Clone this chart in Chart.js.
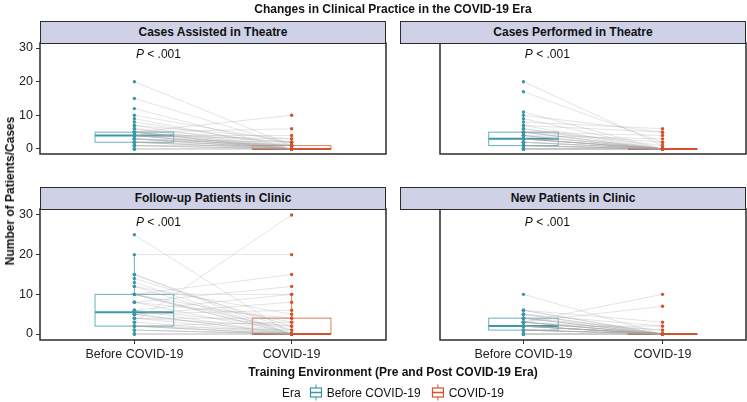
<!DOCTYPE html>
<html>
<head>
<meta charset="utf-8">
<script src="https://cdn.jsdelivr.net/npm/chart.js@4.4.0/dist/chart.umd.min.js"></script>
<style>
  body { margin: 0; background: #fff; }
  #wrap { position: relative; width: 747px; height: 402px; font-family: "Liberation Sans", Arial, sans-serif; color: #111; overflow: hidden; }
  #wrap canvas { position: absolute; left: 0; top: 0; }
  .lbl { position: absolute; white-space: nowrap; font-size: 12px; }
  .bold { font-weight: bold; }
  .strip { position: absolute; box-sizing: border-box; height: 23px; background: #cfd2e6; border: 1.5px solid #2b2b2b; font-weight: bold; font-size: 12px; text-align: center; line-height: 20px; }
  #legend { display: flex; align-items: center; gap: 4px; }
  #legend svg { display: block; }
</style>
</head>
<body>
<div id="wrap">
  <canvas id="p0" width="747" height="402"></canvas>
  <canvas id="p1" width="747" height="402"></canvas>
  <canvas id="p2" width="747" height="402"></canvas>
  <canvas id="p3" width="747" height="402"></canvas>
  <div class="lbl bold" id="title" style="left:393px; top:2px; transform:translateX(-50%);">Changes in Clinical Practice in the COVID-19 Era</div>
  <div class="lbl bold" id="ytitle" style="left:10px; top:191px; transform:translate(-50%,-50%) rotate(-90deg);">Number of Patients/Cases</div>
  <div class="lbl bold" id="xtitle" style="left:393px; top:365px; transform:translateX(-50%);">Training Environment (Pre and Post COVID-19 Era)</div>
  <div class="lbl" id="legend" style="left:393px; top:384px; transform:translateX(-50%);"></div>
</div>
<script>
var panelTitles = ["Cases Assisted in Theatre", "Cases Performed in Theatre", "Follow-up Patients in Clinic", "New Patients in Clinic"];
var eraLabels = ["Before COVID-19", "COVID-19"];
var yTicks = [0, 10, 20, 30];
var pLabel = "P < .001";

// counts per trainee, same order in both eras
var assistedBefore = [20, 15, 12, 10, 9, 8, 7, 7, 6, 6, 5, 5, 5, 5, 5, 5, 5, 4, 4, 4, 4, 4, 4, 3, 3, 3, 3, 3, 3, 2, 2, 2, 2, 1, 1, 1, 1, 0, 0, 0];
var assistedCovid  = [1, 1, 0, 2, 0, 1, 3, 0, 2, 0, 10, 0, 1, 6, 0, 2, 0, 4, 0, 1, 0, 3, 0, 0, 1, 0, 2, 0, 1, 0, 0, 1, 0, 0, 1, 0, 0, 0, 0, 0];

var performedBefore = [20, 17, 11, 10, 9, 8, 7, 7, 6, 6, 5, 5, 5, 5, 5, 4, 4, 4, 4, 3, 3, 3, 3, 3, 3, 2, 2, 2, 2, 1, 1, 1, 1, 1, 0, 0, 0, 0, 0, 0];
var performedCovid  = [1, 2, 0, 5, 0, 6, 0, 5, 0, 1, 0, 4, 0, 0, 2, 0, 3, 0, 0, 0, 0, 0, 0, 0, 0, 0, 0, 0, 0, 0, 0, 0, 0, 0, 0, 0, 0, 0, 0, 0];

var followBefore = [25, 20, 15, 15, 14, 13, 12, 12, 10, 10, 10, 10, 10, 10, 8, 8, 8, 6, 6, 6, 5, 5, 5, 5, 4, 4, 4, 3, 3, 2, 2, 2, 2, 2, 1, 1, 1, 0, 0, 0];
var followCovid  = [0, 20, 1, 0, 2, 0, 5, 0, 15, 3, 0, 10, 1, 0, 12, 4, 0, 10, 2, 0, 8, 0, 6, 0, 4, 0, 2, 30, 0, 3, 0, 1, 0, 0, 0, 0, 0, 0, 0, 0];

var newBefore = [10, 6, 6, 6, 5, 5, 5, 4, 4, 4, 4, 3, 3, 3, 3, 3, 3, 3, 3, 2, 2, 2, 2, 2, 2, 2, 2, 2, 2, 1, 1, 1, 1, 1, 1, 0, 0, 0, 0, 0];
var newCovid  = [0, 0, 3, 0, 0, 2, 0, 1, 0, 0, 0, 0, 10, 0, 7, 0, 1, 0, 0, 0, 2, 0, 0, 0, 0, 0, 0, 0, 0, 0, 0, 0, 0, 0, 0, 0, 0, 0, 0, 0];

// box stats: low whisker, Q1, median, Q3, high whisker
var assistedBoxBefore  = [0, 2, 4, 5, 10];
var assistedBoxCovid   = [0, 0, 0, 1, 2];
var performedBoxBefore = [0, 1, 3, 5, 11];
var performedBoxCovid  = [0, 0, 0, 0, 0];
var followBoxBefore    = [0, 2, 5.5, 10, 20];
var followBoxCovid     = [0, 0, 0, 4, 10];
var newBoxBefore       = [0, 1, 2, 4, 6];
var newBoxCovid        = [0, 0, 0, 0, 0];

var teal = "#3a97a8";
var orange = "#d1522b";
var boxColors = ["#6cb1bd", "#dc8058"];
var fontFam = '"Liberation Sans", Arial, sans-serif';

var panels = [
  { title: panelTitles[0], before: assistedBefore, covid: assistedCovid, boxes: [assistedBoxBefore, assistedBoxCovid], left: 40, top: 43, right: 386, bottom: 174, yAxis: true, xAxis: false },
  { title: panelTitles[1], before: performedBefore, covid: performedCovid, boxes: [performedBoxBefore, performedBoxCovid], left: 400, top: 43, right: 746, bottom: 174, yAxis: false, xAxis: false },
  { title: panelTitles[2], before: followBefore, covid: followCovid, boxes: [followBoxBefore, followBoxCovid], left: 40, top: 209, right: 386, bottom: 340, yAxis: true, xAxis: true },
  { title: panelTitles[3], before: newBefore, covid: newCovid, boxes: [newBoxBefore, newBoxCovid], left: 400, top: 209, right: 746, bottom: 340, yAxis: false, xAxis: true }
];

function panelPlugin(p) {
  return {
    id: "panelDeco",
    beforeDatasetsDraw: function(chart) {
      var ctx = chart.ctx, xs = chart.scales.x, ys = chart.scales.y;
      p.boxes.forEach(function(st, i) {
        var c = i + 1;
        var x0 = xs.getPixelForValue(c - 0.25), x1 = xs.getPixelForValue(c + 0.25), xc = xs.getPixelForValue(c);
        var yLo = ys.getPixelForValue(st[0]), yQ1 = ys.getPixelForValue(st[1]), yMed = ys.getPixelForValue(st[2]);
        var yQ3 = ys.getPixelForValue(st[3]), yHi = ys.getPixelForValue(st[4]);
        ctx.save();
        ctx.strokeStyle = boxColors[i];
        ctx.lineWidth = 1;
        ctx.beginPath();
        ctx.moveTo(xc, yQ3); ctx.lineTo(xc, yHi);
        ctx.moveTo(xc, yQ1); ctx.lineTo(xc, yLo);
        ctx.stroke();
        ctx.fillStyle = "#fff";
        ctx.fillRect(x0, yQ3, x1 - x0, yQ1 - yQ3);
        ctx.strokeRect(x0, yQ3, x1 - x0, yQ1 - yQ3);
        ctx.strokeStyle = i == 0 ? teal : orange;
        ctx.lineWidth = 2;
        ctx.beginPath();
        ctx.moveTo(x0, yMed); ctx.lineTo(x1, yMed);
        ctx.stroke();
        ctx.restore();
      });
    },
    afterDatasetsDraw: function(chart) {
      var ctx = chart.ctx;
      var x = chart.scales.x.getPixelForValue(1.01), y = chart.scales.y.getPixelForValue(28);
      ctx.save();
      ctx.fillStyle = "#111";
      ctx.textBaseline = "middle";
      ctx.font = "italic 12px " + fontFam;
      ctx.fillText(pLabel.charAt(0), x, y);
      var w = ctx.measureText(pLabel.charAt(0)).width;
      ctx.font = "12px " + fontFam;
      ctx.fillText(pLabel.slice(1), x + w, y);
      ctx.restore();
    },
    afterDraw: function(chart) {
      var a = chart.chartArea, ctx = chart.ctx;
      ctx.save();
      ctx.strokeStyle = "#2b2b2b";
      ctx.lineWidth = 1.5;
      ctx.strokeRect(a.left, a.top, a.right - a.left, a.bottom - a.top);
      ctx.restore();
    }
  };
}

panels.forEach(function(p, k) {
  var lineData = [];
  p.before.forEach(function(b, i) {
    lineData.push({ x: 1, y: b }, { x: 2, y: p.covid[i] }, { x: 1.5, y: null });
  });

  new Chart(document.getElementById("p" + k), {
    type: "line",
    data: {
      datasets: [
        { data: lineData, borderColor: "rgba(165,165,165,0.5)", borderWidth: 0.6, pointRadius: 0, spanGaps: false, order: 3 },
        { type: "scatter", data: p.before.map(function(v) { return { x: 1, y: v }; }), backgroundColor: teal, borderWidth: 0, pointRadius: 1.7, order: 1 },
        { type: "scatter", data: p.covid.map(function(v) { return { x: 2, y: v }; }), backgroundColor: orange, borderWidth: 0, pointRadius: 1.7, order: 1 }
      ]
    },
    options: {
      responsive: false,
      animation: false,
      events: [],
      layout: {
        autoPadding: false,
        padding: {
          left: p.yAxis ? 0 : p.left,
          top: p.top,
          right: 747 - p.right,
          bottom: p.xAxis ? 402 - p.bottom - 20 : 402 - p.bottom
        }
      },
      plugins: { legend: { display: false }, tooltip: { enabled: false } },
      scales: {
        x: {
          type: "linear", min: 0.4, max: 2.6, display: p.xAxis,
          afterBuildTicks: function(s) { s.ticks = [{ value: 1 }, { value: 2 }]; },
          afterFit: function(s) { s.height = 20; },
          grid: { drawOnChartArea: false, tickLength: 4, color: "#333" },
          border: { display: false },
          ticks: {
            color: "#222", font: { family: fontFam, size: 12.5 }, padding: 3, maxRotation: 0, autoSkip: false,
            callback: function(v) { return eraLabels[v - 1]; }
          }
        },
        y: {
          min: -1.5, max: 31.5, display: p.yAxis,
          afterBuildTicks: function(s) { s.ticks = yTicks.map(function(v) { return { value: v }; }); },
          afterFit: function(s) { s.width = 40; },
          grid: { drawOnChartArea: false, tickLength: 4, color: "#333" },
          border: { display: false },
          ticks: { color: "#222", font: { family: fontFam, size: 12.5 }, padding: 3 }
        }
      }
    },
    plugins: [panelPlugin(p)]
  });

  var strip = document.createElement("div");
  strip.className = "strip";
  strip.style.left = p.left + "px";
  strip.style.top = (p.top - 22) + "px";
  strip.style.width = (p.right - p.left) + "px";
  strip.textContent = p.title;
  document.getElementById("wrap").appendChild(strip);
});

// legend
function keyIcon(col) {
  return '<svg width="14" height="17" viewBox="0 0 14 17"><line x1="7" y1="0.5" x2="7" y2="4" stroke="' + col + '" stroke-width="1"/>' +
    '<line x1="7" y1="13" x2="7" y2="16.5" stroke="' + col + '" stroke-width="1"/>' +
    '<rect x="1.5" y="4" width="11" height="9" fill="#fff" stroke="' + col + '" stroke-width="1.2"/>' +
    '<line x1="1.5" y1="8.5" x2="12.5" y2="8.5" stroke="' + col + '" stroke-width="1.5"/></svg>';
}
var lg = document.getElementById("legend");
lg.innerHTML = '<span style="margin-right:4px">Era</span>' + keyIcon(teal) + '<span style="margin-right:6px">' + eraLabels[0] + '</span>' +
  keyIcon(orange) + '<span>' + eraLabels[1] + '</span>';
</script>
</body>
</html>
